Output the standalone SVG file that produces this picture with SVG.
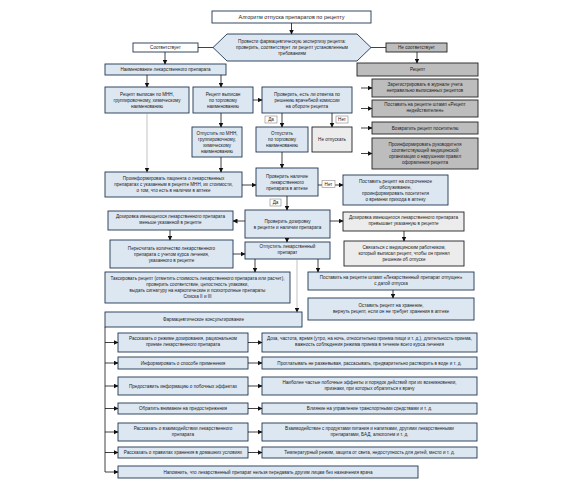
<svg xmlns="http://www.w3.org/2000/svg" width="588" height="492" viewBox="0 0 588 492">
<defs>
<marker id="ah" markerWidth="5" markerHeight="5" refX="4.5" refY="2.5" orient="auto" markerUnits="userSpaceOnUse"><path d="M0,0 L5,2.5 L0,5 z" fill="#111"/></marker>
<style>
.b{fill:#dce7f2;stroke:#1e3550;stroke-width:0.9}
.g{fill:#bdbdbd;stroke:#222;stroke-width:0.9}
.w{fill:#ffffff;stroke:#1e3550;stroke-width:0.9}
.lg{fill:#ececec;stroke:#222;stroke-width:0.9}
.lb{fill:#fff;stroke:#888;stroke-width:0.6}
text{font-family:"Liberation Sans",Arial,sans-serif;font-size:4.6px;fill:#222;text-anchor:middle}
.t{font-size:5.5px}
.c{stroke:#111;stroke-width:0.8;fill:none}
.ca{stroke:#111;stroke-width:0.8;fill:none;marker-end:url(#ah)}
.cg{stroke:#9a9a9a;stroke-width:0.6;fill:none;marker-end:url(#ah)}
</style>
</defs>
<rect width="588" height="492" fill="#fff"/>

<g id="title"><rect class="w" x="212" y="11" width="159" height="12"/><text class="t" x="291.5" y="18.9">Алгоритм отпуска препаратов по рецепту</text></g>
<g id="expertise"><polygon class="b" points="213,47.5 227,34 357,34 371,47.5 357,61 227,61"/>
<text x="292" y="43.2">Провести фармацевтическую экспертизу рецепта:</text>
<text x="292" y="49.2">проверить, соответствует ли рецепт установленным</text>
<text x="292" y="55.2">требованиям</text></g>
<g id="ok"><rect class="w" x="133" y="43" width="65" height="9"/><text x="165.5" y="49.2">Соответствует</text></g>
<g id="notok"><rect class="g" x="386" y="43" width="61" height="9"/><text x="416.5" y="49.2">Не соответствует</text></g>
<g id="recipe"><rect class="g" x="357" y="63" width="121" height="13"/><text x="417.5" y="71.2">Рецепт</text></g>
<g id="g1"><rect class="g" x="372" y="79" width="106" height="18"/><text x="425" y="85.7">Зарегистрировать в журнале учета</text><text x="425" y="91.7">неправильно выписанных рецептов</text></g>
<g id="g2"><rect class="g" x="372" y="100" width="106" height="17"/><text x="425" y="106.2">Поставить на рецепте штамп «Рецепт</text><text x="425" y="112.2">недействителен»</text></g>
<g id="g3"><rect class="g" x="372" y="122" width="106" height="12"/><text x="425" y="129.7">Возвратить рецепт посетителю</text></g>
<g id="g4"><rect class="g" x="372" y="138" width="106" height="31"/><text x="425" y="146.2">Проинформировать руководителя</text><text x="425" y="152.2">соответствующей медицинской</text><text x="425" y="158.2">организации о нарушении правил</text><text x="425" y="164.2">оформления рецепта</text></g>

<g id="name"><rect class="b" x="105" y="64" width="121" height="11"/><text x="165.5" y="71.2">Наименование лекарственного препарата</text></g>
<g id="a"><rect class="b" x="105" y="87" width="84" height="26"/><text x="147" y="95.7">Рецепт выписан по МНН,</text><text x="147" y="101.7">группировочному, химическому</text><text x="147" y="107.7">наименованию</text></g>
<g id="b"><rect class="b" x="193" y="87" width="60" height="26"/><text x="223" y="95.7">Рецепт выписан</text><text x="223" y="101.7">по торговому</text><text x="223" y="107.7">наименованию</text></g>
<g id="c"><rect class="b" x="262" y="87" width="90" height="26"/><text x="307" y="95.7">Проверить, есть ли отметка по</text><text x="307" y="101.7">решению врачебной комиссии</text><text x="307" y="107.7">на обороте рецепта</text></g>
<g id="d"><rect class="b" x="256" y="127" width="52" height="25"/><text x="282" y="135.2">Отпустить</text><text x="282" y="141.2">по торговому</text><text x="282" y="147.2">наименованию</text></g>
<g id="e"><rect class="lg" x="312" y="127" width="40" height="25"/><text x="332" y="141.2">Не отпускать</text></g>
<g id="f"><rect class="b" x="192" y="127" width="50" height="30"/><text x="217" y="134.7">Отпустить по МНН,</text><text x="217" y="140.7">группировочному,</text><text x="217" y="146.7">химическому</text><text x="217" y="152.7">наименованию</text></g>
<g id="gi"><rect class="b" x="105" y="172" width="137" height="25"/><text x="173.5" y="180.2">Проинформировать пациента о лекарственных</text><text x="173.5" y="186.2">препаратах с указанным в рецепте МНН, их стоимости,</text><text x="173.5" y="192.2">о том, что есть в наличии в аптеке</text></g>
<g id="h"><rect class="b" x="256" y="168" width="62" height="28"/><text x="287" y="177.7">Проверить наличие</text><text x="287" y="183.7">лекарственного</text><text x="287" y="189.7">препарата в аптеке</text></g>
<g id="i"><rect class="b" x="343" y="175" width="105" height="30"/><text x="395.5" y="182.7">Поставить рецепт на отсроченное</text><text x="395.5" y="188.7">обслуживание,</text><text x="395.5" y="194.7">проинформировать посетителя</text><text x="395.5" y="200.7">о времени прихода в аптеку</text></g>
<g id="j"><rect class="b" x="245" y="210" width="85" height="28"/><text x="287.5" y="222.7">Проверить дозировку</text><text x="287.5" y="228.7">в рецепте и наличии препарата</text></g>
<g id="k"><rect class="b" x="108" y="211" width="125" height="19"/><text x="170.5" y="218.2">Дозировка имеющегося лекарственного препарата</text><text x="170.5" y="224.2">меньше указанной в рецепте</text></g>
<g id="l"><rect class="lg" x="343" y="212" width="121" height="19"/><text x="403.5" y="219.2">Дозировка имеющегося лекарственного препарата</text><text x="403.5" y="225.2">превышает указанную в рецепте</text></g>
<g id="m"><rect class="b" x="110" y="240" width="123" height="28"/><text x="171.5" y="249.7">Пересчитать количество лекарственного</text><text x="171.5" y="255.7">препарата с учетом курса лечения,</text><text x="171.5" y="261.7">указанного в рецепте</text></g>
<g id="n"><rect class="b" x="245" y="242" width="85" height="17"/><text x="287.5" y="248.2">Отпустить лекарственный</text><text x="287.5" y="254.2">препарат</text></g>
<g id="o"><rect class="lg" x="344" y="241" width="120" height="25"/><text x="404" y="249.2">Связаться с медицинским работником,</text><text x="404" y="255.2">который выписал рецепт, чтобы он принял</text><text x="404" y="261.2">решение об отпуске</text></g>
<g id="p"><rect class="b" x="105" y="272" width="185" height="31"/><text x="197.5" y="280.2" textLength="174" lengthAdjust="spacingAndGlyphs">Таксировать рецепт (отметить стоимость лекарственного препарата или расчет),</text><text x="197.5" y="286.2">проверить соответствие, целостность упаковки,</text><text x="197.5" y="292.2">выдать сигнатуру на наркотические и психотропные препараты</text><text x="197.5" y="298.2">Списка II и III</text></g>
<g id="q"><rect class="b" x="308" y="272" width="166" height="18"/><text x="391" y="278.7">Поставить на рецепте штамп «Лекарственный препарат отпущен»</text><text x="391" y="284.7">с датой отпуска</text></g>
<g id="r"><rect class="b" x="308" y="298" width="166" height="22"/><text x="391" y="306.7">Оставить рецепт на хранение,</text><text x="391" y="312.7">вернуть рецепт, если он не требует хранения в аптеке</text></g>
<g id="s"><rect class="b" x="105" y="312" width="197" height="15"/><text x="203.5" y="321.2">Фармацевтическое консультирование</text></g>

<g id="l1"><rect class="b" x="118" y="333" width="130" height="19"/><text x="183" y="340.2">Рассказать о режиме дозирования, рациональном</text><text x="183" y="346.2">приеме лекарственного препарата</text></g>
<g id="r1"><rect class="b" x="262" y="333" width="215" height="19"/><text x="369.5" y="340.2" textLength="205" lengthAdjust="spacingAndGlyphs">Доза, частота, время (утро, на ночь, относительно приема пищи и т. д.), длительность приема,</text><text x="369.5" y="346.2">важность соблюдения режима приема в течение всего курса лечения</text></g>
<g id="l2"><rect class="b" x="118" y="357" width="130" height="12"/><text x="183" y="364.7">Информировать о способе применения</text></g>
<g id="r2"><rect class="b" x="262" y="357" width="215" height="12"/><text x="369.5" y="364.7">Проглатывать не разжевывая, рассасывать, предварительно растворить в воде и т. д.</text></g>
<g id="l3"><rect class="b" x="118" y="377" width="130" height="18"/><text x="183" y="387.7">Предоставить информацию о побочных эффектах</text></g>
<g id="r3"><rect class="b" x="262" y="377" width="215" height="18"/><text x="369.5" y="383.7">Наиболее частые побочные эффекты и порядок действий при их возникновении,</text><text x="369.5" y="389.7">признаки, при которых обратиться к врачу</text></g>
<g id="l4"><rect class="b" x="118" y="403" width="130" height="11"/><text x="183" y="410.2">Обратить внимание на предостережения</text></g>
<g id="r4"><rect class="b" x="262" y="403" width="215" height="11"/><text x="369.5" y="410.2">Влияние на управление транспортными средствами и т. д.</text></g>
<g id="l5"><rect class="b" x="118" y="423" width="130" height="18"/><text x="183" y="429.7">Рассказать о взаимодействии лекарственного</text><text x="183" y="435.7">препарата</text></g>
<g id="r5"><rect class="b" x="262" y="423" width="215" height="18"/><text x="369.5" y="429.7">Взаимодействие с продуктами питания и напитками, другими лекарственными</text><text x="369.5" y="435.7">препаратами, БАД, алкоголем и т. д.</text></g>
<g id="l6"><rect class="b" x="118" y="447" width="130" height="11"/><text x="183" y="454.2">Рассказать о правилах хранения в домашних условиях</text></g>
<g id="r6"><rect class="b" x="262" y="447" width="215" height="11"/><text x="369.5" y="454.2">Температурный режим, защита от света, недоступность для детей, место и т. д.</text></g>
<g id="l7"><rect class="b" x="118" y="466" width="300" height="12"/><text x="268" y="473.7">Напомнить, что лекарственный препарат нельзя передавать другим лицам без назначения врача</text></g>

<g id="connectors">
<path class="ca" d="M291.5,23 V34"/>
<path class="c" d="M198,47.5 H213"/>
<path class="c" d="M371,47.5 H386"/>
<path class="ca" d="M165,52 V64"/>
<path class="ca" d="M417,52 V63"/>
<path class="ca" d="M361,88 H372"/>
<path class="ca" d="M361,108.5 H372"/>
<path class="ca" d="M361,128 H372"/>
<path class="ca" d="M361,153.5 H372"/>
<path class="ca" d="M147,75 V87"/>
<path class="ca" d="M221,75 V87"/>
<path class="ca" d="M253,100 H262"/>
<path class="ca" d="M282,113 V127"/>
<path class="ca" d="M332,113 V127"/>
<path class="ca" d="M221,113 V127"/>
<path class="cg" d="M147,113 V172"/>
<path class="ca" d="M221,157 V172"/>
<path class="ca" d="M242,185 H256"/>
<path class="ca" d="M282,152 V168"/>
<path class="ca" d="M318,185 H343"/>
<path class="ca" d="M287,196 V210"/>
<path class="ca" d="M245,221 H233"/>
<path class="ca" d="M330,221 H343"/>
<path class="ca" d="M170,230 V240"/>
<path class="ca" d="M404,231 V241"/>
<path class="ca" d="M233,254 H245"/>
<path class="ca" d="M287,238 V242"/>
<path class="ca" d="M255,259 V272"/>
<path class="ca" d="M318,259 V272"/>
<path class="cg" d="M297,259 V312"/>
<path class="ca" d="M393,290 V298"/>
<path class="c" d="M105,327 V472"/>
<path class="ca" d="M105,342.5 H118"/>
<path class="ca" d="M105,363 H118"/>
<path class="ca" d="M105,386 H118"/>
<path class="ca" d="M105,408.5 H118"/>
<path class="ca" d="M105,432 H118"/>
<path class="ca" d="M105,452.5 H118"/>
<path class="ca" d="M105,472 H118"/>
<path class="ca" d="M248,342.5 H262"/>
<path class="ca" d="M248,363 H262"/>
<path class="ca" d="M248,386 H262"/>
<path class="ca" d="M248,408.5 H262"/>
<path class="ca" d="M248,432 H262"/>
<path class="ca" d="M248,452.5 H262"/>
<g id="labels">
<rect class="lb" x="265" y="116" width="12" height="7"/><text x="271" y="121.2">Да</text>
<rect class="lb" x="336" y="116" width="12" height="7"/><text x="342" y="121.2">Нет</text>
<rect class="lb" x="322" y="180.5" width="13" height="7"/><text x="328.5" y="185.7">Нет</text>
<rect class="lb" x="270" y="199" width="11" height="7"/><text x="275.5" y="204.2">Да</text>
</g>
</g>
</svg>
